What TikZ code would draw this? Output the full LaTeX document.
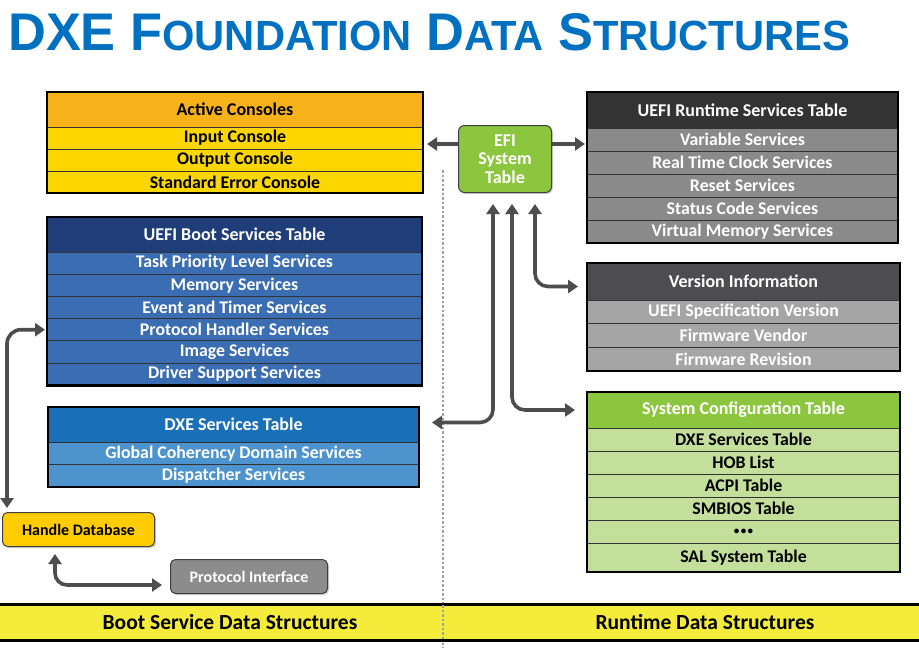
\documentclass[tikz,border=0pt]{standalone}
\usepackage{fontspec}
\usepackage{graphicx}
\setmainfont{Carlito}
\newfontfamily\titlefont{Liberation Sans}
\usetikzlibrary{arrows.meta,fit,shadows}
\definecolor{titleblue}{RGB}{0,112,192}
\definecolor{conH}{RGB}{247,178,26}
\definecolor{conR}{RGB}{252,214,0}
\definecolor{bootH}{RGB}{31,62,121}
\definecolor{bootR}{RGB}{58,109,177}
\definecolor{dxeH}{RGB}{26,112,184}
\definecolor{dxeR}{RGB}{77,148,206}
\definecolor{rtH}{RGB}{51,51,51}
\definecolor{rtR}{RGB}{138,138,138}
\definecolor{verH}{RGB}{77,77,79}
\definecolor{verR}{RGB}{165,165,165}
\definecolor{sctH}{RGB}{140,198,63}
\definecolor{sctR}{RGB}{195,223,155}
\definecolor{efiG}{RGB}{140,198,63}
\definecolor{hdbY}{RGB}{255,204,0}
\definecolor{protoG}{RGB}{140,140,140}
\definecolor{barY}{RGB}{245,235,58}
\definecolor{arrowc}{RGB}{77,77,77}
\definecolor{dotc}{RGB}{160,160,160}
\tikzset{
  cell/.style={anchor=north west, inner sep=0pt, outer sep=0pt, draw=black!80,
    line width=0.7pt, font=\bfseries\fontsize{17.8}{18}\selectfont, align=center},
  hcell/.style={cell, font=\bfseries\fontsize{18}{18}\selectfont},
  con/.style={cell, minimum width=376pt, fill=conR, text=black},
  boot/.style={cell, minimum width=375pt, fill=bootR, text=white},
  dxe/.style={cell, minimum width=371pt, fill=dxeR, text=white},
  rt/.style={cell, minimum width=311pt, fill=rtR, text=white},
  ver/.style={cell, minimum width=313pt, fill=verR, text=white},
  sct/.style={cell, minimum width=313pt, fill=sctR, text=black},
  outer/.style={draw=black, line width=2.6pt, inner sep=0pt, fill=none},
  rbox/.style={anchor=north west, rounded corners=6pt, draw=black!75, line width=1pt,
    inner sep=0pt, align=center, font=\bfseries\fontsize{16}{18}\selectfont,
    drop shadow={opacity=0.35, shadow xshift=1.5pt, shadow yshift=-1.5pt}},
  fat/.style={draw=arrowc, line width=3.6pt, -{Triangle[width=13pt,length=10pt]}},
  fat2/.style={draw=arrowc, line width=3.6pt, {Triangle[width=13pt,length=10pt]}-{Triangle[width=13pt,length=10pt]}},
  dotline/.style={draw=dotc, line width=2pt, dash pattern=on 2.5pt off 2pt},
  bartext/.style={font=\bfseries\fontsize{21.5}{22}\selectfont, text=black, inner sep=0pt}
}
\begin{document}
\begin{tikzpicture}[x=1pt,y=-1pt]
\useasboundingbox (0,0) rectangle (919,656);
\fill[white] (0,0) rectangle (919,656);

% title
\node[anchor=north west, inner sep=0pt, text=titleblue] (title) at (8,13)
  {\resizebox{842pt}{37pt}{\titlefont\bfseries\fontsize{49}{49}\selectfont
   DXE F{\fontsize{39}{39}\selectfont OUNDATION} D{\fontsize{39}{39}\selectfont ATA}
   S{\fontsize{39}{39}\selectfont TRUCTURES}}};

% Active consoles
\node[con, hcell, fill=conH, minimum height=35pt] (ach) at (47,92) {Active Consoles};
\node[con, minimum height=22pt] (ac1) at (47,127) {Input Console};
\node[con, minimum height=22pt] (ac2) at (47,149) {Output Console};
\node[con, minimum height=22pt] (ac3) at (47,171) {Standard Error Console};
\node[outer, fit=(ach)(ac3)] (acbox) {};

% Boot services
\node[boot, hcell, fill=bootH, minimum height=35pt] (bth) at (47,217) {UEFI Boot Services Table};
\node[boot, minimum height=22.2pt] (bt1) at (47,252) {Task Priority Level Services};
\node[boot, minimum height=22.2pt] (bt2) at (47,274.2) {Memory Services};
\node[boot, minimum height=22.2pt] (bt3) at (47,296.4) {Event and Timer Services};
\node[boot, minimum height=22.2pt] (bt4) at (47,318.6) {Protocol Handler Services};
\node[boot, minimum height=22.2pt] (bt5) at (47,340.8) {Image Services};
\node[boot, minimum height=22.2pt] (bt6) at (47,363) {Driver Support Services};
\node[outer, fit=(bth)(bt6)] (btbox) {};

% DXE services
\node[dxe, hcell, fill=dxeH, minimum height=35pt] (dxh) at (48,407) {DXE Services Table};
\node[dxe, minimum height=22.5pt] (dx1) at (48,442) {Global Coherency Domain Services};
\node[dxe, minimum height=22.5pt] (dx2) at (48,464.5) {Dispatcher Services};
\node[outer, fit=(dxh)(dx2)] (dxbox) {};

% Runtime services
\node[rt, hcell, fill=rtH, minimum height=36pt] (rth) at (587,92) {UEFI Runtime Services Table};
\node[rt, minimum height=23pt] (rt1) at (587,128) {Variable Services};
\node[rt, minimum height=23pt] (rt2) at (587,151) {Real Time Clock Services};
\node[rt, minimum height=23pt] (rt3) at (587,174) {Reset Services};
\node[rt, minimum height=23pt] (rt4) at (587,197) {Status Code Services};
\node[rt, minimum height=23pt] (rt5) at (587,220) {Virtual Memory Services};
\node[outer, fit=(rth)(rt5)] (rtbox) {};

% Version information
\node[ver, hcell, fill=verH, minimum height=37pt] (vh) at (587,263) {Version Information};
\node[ver, minimum height=23.7pt] (v1) at (587,300) {UEFI Specification Version};
\node[ver, minimum height=23.7pt] (v2) at (587,323.7) {Firmware Vendor};
\node[ver, minimum height=23.6pt] (v3) at (587,347.4) {Firmware Revision};
\node[outer, fit=(vh)(v3)] (vbox) {};

% System configuration table
\node[sct, hcell, fill=sctH, text=white, minimum height=36pt] (sh) at (587,392) {System Configuration Table};
\node[sct, minimum height=23pt] (s1) at (587,428) {DXE Services Table};
\node[sct, minimum height=23pt] (s2) at (587,451) {HOB List};
\node[sct, minimum height=23pt] (s3) at (587,474) {ACPI Table};
\node[sct, minimum height=23pt] (s4) at (587,497) {SMBIOS Table};
\node[sct, minimum height=23pt] (s5) at (587,520) {{\fontsize{11}{11}\selectfont\textbullet\kern1.5pt\textbullet\kern1.5pt\textbullet}};
\node[sct, minimum height=29pt] (s6) at (587,543) {SAL System Table};
\node[outer, fit=(sh)(s6)] (sbox) {};

% EFI system table
\node[rbox, fill=efiG, text=white, minimum width=93pt, minimum height=67pt,
      font=\bfseries\fontsize{18}{18.5}\selectfont] (efi) at (458,125) {EFI\\System\\Table};

% Handle database, protocol interface
\node[rbox, fill=hdbY, text=black, minimum width=152pt, minimum height=34pt, rounded corners=5pt] (hdb) at (2,512) {Handle Database};
\node[rbox, fill=protoG, text=white, minimum width=157pt, minimum height=34pt, rounded corners=5pt] (pi) at (170,559) {Protocol Interface};

% divider
\draw[dotline] (443,170) -- (443,648);

% bottom bar
\fill[barY] (0,604) rectangle (919,640);
\draw[black, line width=3pt] (0,604) -- (919,604);
\draw[black, line width=3pt] (0,640) -- (919,640);
\draw[dotline] (443,605) -- (443,639);
\node[bartext] (bl) at (230,622) {Boot Service Data Structures};
\node[bartext] (br) at (705,622) {Runtime Data Structures};

% arrow helper coordinates
\coordinate (aL) at (427,144);
\coordinate (aR) at (585,144);
\coordinate (c0) at (7,0);
\coordinate (c1) at (493,0);
\coordinate (c2) at (512,0);
\coordinate (c3) at (535,0);
\coordinate (c4) at (55,0);
\coordinate (c5) at (0,585);

% arrows
\draw[fat] (efi.west |- aL) -- (aL);
\draw[fat] (efi.east |- aR) -- (aR);
\draw[fat2, rounded corners=13pt, shorten <=11pt, shorten >=9pt] (efi.south -| c3) |- ([yshift=-5pt]vh.west);
\draw[fat2, rounded corners=13pt, shorten <=11pt, shorten >=12pt] (efi.south -| c2) |- (sh.west);
\draw[fat2, rounded corners=13pt, shorten <=11pt, shorten >=13pt] (efi.south -| c1) |- ([yshift=2pt]dxh.east);
\draw[fat2, rounded corners=14pt, shorten <=2pt, shorten >=4pt] (bt4.west) -| (hdb.north -| c0);
\draw[fat2, rounded corners=12pt, shorten <=7pt, shorten >=8pt] (hdb.south -| c4) |- (pi.west |- c5);
\end{tikzpicture}
\end{document}
